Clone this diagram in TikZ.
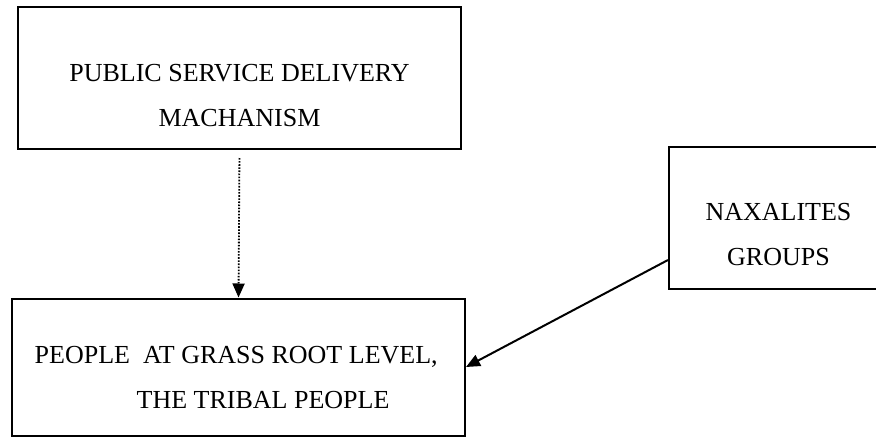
\documentclass[tikz,border=0pt]{standalone}
\usepackage{fontspec}
\setmainfont{Liberation Serif}
\usetikzlibrary{positioning, arrows.meta}

\begin{document}
\begin{tikzpicture}[x=1pt, y=-1pt,
        box/.style={draw, line width=2pt, inner sep=0pt},
        txt/.style={inner sep=0pt, font=\fontsize{26}{45}\selectfont},
        tip/.style={-{Triangle[length=14pt, width=12pt]}}]
        \useasboundingbox (0,0) rectangle (876,437);

        \node[box, minimum width=443pt, minimum height=142pt] (psd) at (239.5,78) {};
        \node[box, minimum width=219pt, minimum height=142pt] (nax) at (778.5,218) {};
        \node[box, minimum width=453pt, minimum height=137pt] (people) at (238.5,367) {};

        \node[txt, align=center] (psdtext) at (239.5,96) {PUBLIC SERVICE DELIVERY\\MACHANISM};
        \node[txt, align=center] (naxtext) at (778.5,235) {NAXALITES\\GROUPS};
        \node[txt, align=left, anchor=west] (peopletext) at (34.5,377.4)
                {PEOPLE\ \ AT GRASS ROOT LEVEL,\\\hspace*{102pt}THE TRIBAL PEOPLE};

        \draw[tip, line width=1.8pt, dash pattern=on 1.6pt off 1.5pt, shorten <=8pt] (psd.south) -- (people.north);
        \draw[tip, line width=2pt] ([yshift=30pt]nax.south west) -- (people.east);

    \end{tikzpicture}
\end{document}
